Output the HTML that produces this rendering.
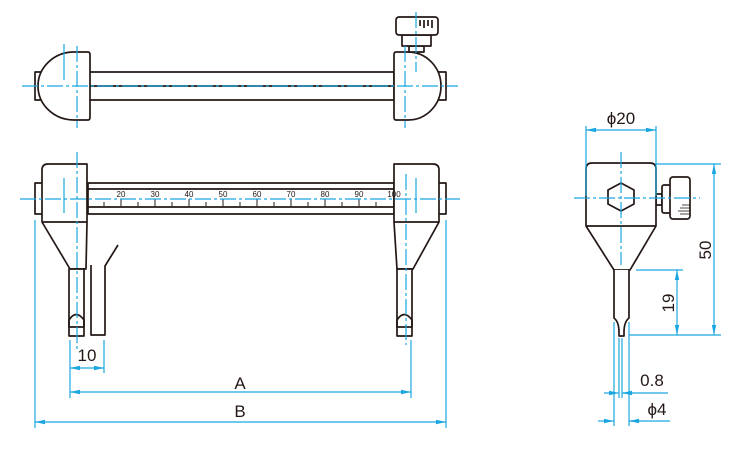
<!DOCTYPE html>
<html><head><meta charset="utf-8"><style>
html,body{margin:0;padding:0;background:#fff;}
svg{display:block;font-family:"Liberation Sans",sans-serif;}
.k{fill:none;stroke:#231815;stroke-width:1.7;stroke-linejoin:round}
.kf{fill:#fff;stroke:#231815;stroke-width:1.7;stroke-linejoin:round}
.b{stroke:#1aa6e0;stroke-width:1.2;fill:none}
.c{stroke:#1aa6e0;stroke-width:1.2;fill:none;stroke-dasharray:16 3 3 3}
.a{fill:#1aa6e0}
.t{fill:#231815;font-size:17px}
.s{fill:#231815;font-size:8px}
</style></head><body>
<svg width="750" height="450" viewBox="0 0 750 450" xmlns="http://www.w3.org/2000/svg">
<defs>
<marker id="ar" markerWidth="10" markerHeight="6" refX="10" refY="3" orient="auto-start-reverse" markerUnits="userSpaceOnUse"><path d="M0,0.8 L10,3 L0,5.2Z" class="a"/></marker>
</defs>
<!-- TOP VIEW -->
<rect x="35" y="72" width="8" height="28" class="kf"/>
<rect x="438" y="72" width="8" height="28" class="kf"/>
<rect x="88" y="72" width="306" height="28" class="kf"/>
<line x1="88" y1="86" x2="394" y2="86" class="k"/>
<path d="M88,52 L74,52 A36,34 0 0 0 74,120 L88,120 Q90,120 90,117 L90,55 Q90,52 88,52Z" class="kf"/>
<path d="M396,52 L408,52 A33,34 0 0 1 408,120 L396,120 Q394,120 394,117 L394,55 Q394,52 396,52Z" class="kf"/>
<rect x="409" y="46" width="15" height="6" class="kf"/>
<rect x="402" y="35" width="29" height="11" class="kf"/>
<rect x="396" y="17" width="42" height="18" rx="3" class="kf"/>
<g class="k" stroke-width="0.8"><line x1="420" y1="20" x2="420" y2="26"/><line x1="424" y1="20" x2="424" y2="28"/><line x1="428" y1="20" x2="428" y2="26"/><line x1="432" y1="20" x2="432" y2="28"/></g>
<line x1="22" y1="86" x2="458" y2="86" class="c"/>
<line x1="77" y1="46" x2="77" y2="128" class="c"/>
<line x1="64" y1="44" x2="64" y2="80" class="b"/>
<line x1="405" y1="46" x2="405" y2="128" class="c"/>
<line x1="416" y1="12" x2="416" y2="72" class="c"/>
<!-- FRONT VIEW -->
<rect x="35" y="183" width="8" height="31" class="kf"/>
<rect x="438" y="183" width="8" height="31" class="kf"/>
<rect x="88" y="183" width="306" height="31" class="kf"/>
<line x1="88" y1="189" x2="394" y2="189" class="k"/>
<line x1="88" y1="207" x2="394" y2="207" class="k"/>
<g stroke="#231815" stroke-width="1">
<line x1="104" y1="202" x2="104" y2="206"/>
<line x1="121" y1="199" x2="121" y2="206"/><line x1="138" y1="202" x2="138" y2="206"/>
<line x1="155" y1="199" x2="155" y2="206"/><line x1="172" y1="202" x2="172" y2="206"/>
<line x1="189" y1="199" x2="189" y2="206"/><line x1="206" y1="202" x2="206" y2="206"/>
<line x1="223" y1="199" x2="223" y2="206"/><line x1="240" y1="202" x2="240" y2="206"/>
<line x1="257" y1="199" x2="257" y2="206"/><line x1="274" y1="202" x2="274" y2="206"/>
<line x1="291" y1="199" x2="291" y2="206"/><line x1="308" y1="202" x2="308" y2="206"/>
<line x1="325" y1="199" x2="325" y2="206"/><line x1="342" y1="202" x2="342" y2="206"/>
<line x1="359" y1="199" x2="359" y2="206"/><line x1="376" y1="202" x2="376" y2="206"/>
</g>
<path d="M42,222 L42,170 Q42,164 48,164 L87,164 L87,222 L86,269 L70,269 Z" class="kf"/>
<line x1="42" y1="222" x2="87" y2="222" class="k"/>
<rect x="69" y="269" width="15" height="67" class="kf"/>
<path d="M69,327 L69,320 Q76,309 84,320 L84,327 Z" class="k"/>
<path d="M91,265 L91,335 L105,335 L105,266 L118,245" class="k" stroke-width="1"/>
<path d="M394,164 L433,164 Q439,164 439,170 L439,222 L413,269 L397,269 L394,222 Z" class="kf"/>
<line x1="394" y1="222" x2="439" y2="222" class="k"/>
<rect x="397" y="269" width="15" height="67" class="kf"/>
<path d="M397,327 L397,320 Q404,309 412,320 L412,327 Z" class="k"/>
<g class="s" text-anchor="middle">
<text x="121" y="197">20</text><text x="155" y="197">30</text><text x="189" y="197">40</text><text x="223" y="197">50</text><text x="257" y="197">60</text><text x="291" y="197">70</text><text x="325" y="197">80</text><text x="359" y="197">90</text><text x="394" y="197">100</text>
</g>
<line x1="20" y1="199" x2="460" y2="199" class="c"/>
<line x1="77" y1="152" x2="77" y2="350" class="c"/>
<line x1="64" y1="178" x2="64" y2="213" class="b"/>
<line x1="406" y1="174" x2="406" y2="345" class="c"/>
<line x1="416" y1="178" x2="416" y2="213" class="b"/>
<!-- bottom dims -->
<line x1="35" y1="220" x2="35" y2="428" class="b"/>
<line x1="446" y1="220" x2="446" y2="428" class="b"/>
<line x1="70" y1="340" x2="70" y2="398" class="b"/>
<line x1="104" y1="340" x2="104" y2="373" class="b"/>
<line x1="411" y1="340" x2="411" y2="398" class="b"/>
<line x1="70" y1="368" x2="104" y2="368" class="b" marker-start="url(#ar)" marker-end="url(#ar)"/>
<line x1="70" y1="392" x2="411" y2="392" class="b" marker-start="url(#ar)" marker-end="url(#ar)"/>
<line x1="35" y1="422" x2="446" y2="422" class="b" marker-start="url(#ar)" marker-end="url(#ar)"/>
<text x="87" y="361" class="t" text-anchor="middle">10</text>
<text x="240" y="389" class="t" text-anchor="middle">A</text>
<text x="240" y="417" class="t" text-anchor="middle">B</text>
<!-- SIDE VIEW -->
<rect x="656" y="194" width="6" height="11" class="kf"/>
<rect x="662" y="185" width="10" height="28" rx="2" class="kf"/>
<rect x="670" y="177" width="20" height="42" rx="3" class="kf"/>
<g stroke="#231815" stroke-width="0.8"><line x1="680" y1="208" x2="690" y2="208"/><line x1="678" y1="211" x2="690" y2="211"/><line x1="680" y1="214" x2="690" y2="214"/><line x1="682" y1="205" x2="690" y2="205"/></g>
<path d="M586,226 L586,169 Q586,163 592,163 L650,163 Q656,163 656,169 L656,226 L630,270 L614,270 Z" class="kf"/>
<line x1="586" y1="226" x2="656" y2="226" class="k"/>
<path d="M614,270 L614,318 Q619,322 619,332 L619,336 L624,336 L624,332 Q624,322 629,318 L629,270" class="kf"/>
<polygon points="621,183 634,190 634,204 621,211 608,204 608,190" class="k"/>
<line x1="574" y1="198" x2="700" y2="198" class="c"/>
<line x1="621" y1="152" x2="621" y2="265" class="c"/>
<line x1="586" y1="126" x2="586" y2="196" class="b"/>
<line x1="656" y1="126" x2="656" y2="196" class="b"/>
<line x1="586" y1="130" x2="656" y2="130" class="b" marker-start="url(#ar)" marker-end="url(#ar)"/>
<text x="621" y="124" class="t" text-anchor="middle">ϕ20</text>
<line x1="656" y1="164" x2="721" y2="164" class="b"/>
<line x1="629" y1="335" x2="721" y2="335" class="b"/>
<line x1="714" y1="164" x2="714" y2="335" class="b" marker-start="url(#ar)" marker-end="url(#ar)"/>
<text x="0" y="0" class="t" text-anchor="middle" transform="translate(711,250) rotate(-90)">50</text>
<line x1="636" y1="270" x2="683" y2="270" class="b"/>
<line x1="677" y1="270" x2="677" y2="335" class="b" marker-start="url(#ar)" marker-end="url(#ar)"/>
<text x="0" y="0" class="t" text-anchor="middle" transform="translate(674,303) rotate(-90)">19</text>
<line x1="614" y1="322" x2="614" y2="426" class="b"/>
<line x1="629" y1="322" x2="629" y2="426" class="b"/>
<line x1="619" y1="338" x2="619" y2="398" class="b" stroke-width="0.8"/>
<line x1="622" y1="338" x2="622" y2="398" class="b" stroke-width="0.8"/>
<line x1="604" y1="393" x2="619" y2="393" class="b" marker-end="url(#ar)"/>
<line x1="633" y1="393" x2="622" y2="393" class="b" marker-end="url(#ar)"/>
<line x1="622" y1="393" x2="668" y2="393" class="b"/>
<text x="652" y="386" class="t" text-anchor="middle">0.8</text>
<line x1="598" y1="421" x2="614" y2="421" class="b" marker-end="url(#ar)"/>
<line x1="640" y1="421" x2="629" y2="421" class="b" marker-end="url(#ar)"/>
<line x1="629" y1="421" x2="670" y2="421" class="b"/>
<text x="657" y="415" class="t" text-anchor="middle">ϕ4</text>
</svg>
</body></html>
